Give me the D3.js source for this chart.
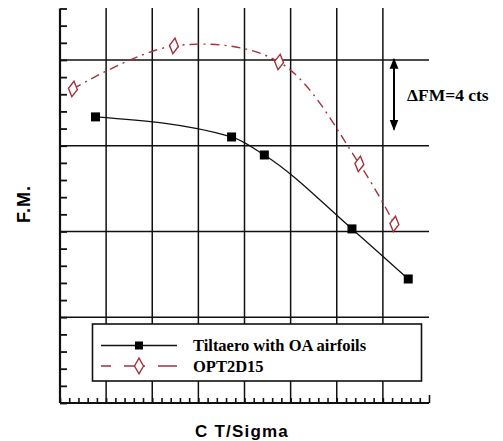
<!DOCTYPE html>
<html>
<head>
<meta charset="utf-8">
<script src="https://cdn.jsdelivr.net/npm/d3@7"></script>
<style>
  html, body { margin: 0; padding: 0; background: #fff; }
  svg { display: block; }
</style>
</head>
<body>
<svg id="chart" width="503" height="441"></svg>
<script>
// Figure of merit vs. thrust coefficient over solidity
const tiltaeroCT = [0.0477, 0.0772, 0.0843, 0.1033, 0.1155];
const tiltaeroFM = [0.7168, 0.7051, 0.6946, 0.6515, 0.6223];
const optCT = [0.0428, 0.0647, 0.0875, 0.1049, 0.1125];
const optFM = [0.7331, 0.7582, 0.7488, 0.6894, 0.6544];
const seriesNames = ["Tiltaero with OA airfoils", "OPT2D15"];
const xMajorTicks = [0.04, 0.05, 0.06, 0.07, 0.08, 0.09, 0.10, 0.11, 0.12];
const yMajorTicks = [0.55, 0.60, 0.65, 0.70, 0.75];
const deltaLabel = "ΔFM=4 cts";
const deltaRange = [0.75, 0.71];

const svg = d3.select("#chart");
const x = d3.scaleLinear().domain([0.04, 0.12]).range([60, 429]);
const y = d3.scaleLinear().domain([0.55, 0.78]).range([403, 8.5]);

const red = "#a3303c";

// grid
const grid = svg.append("g").attr("stroke", "#111").attr("stroke-width", 1.5);
grid.selectAll("line.v").data(xMajorTicks.slice(1, -1)).join("line")
  .attr("x1", d => x(d)).attr("x2", d => x(d))
  .attr("y1", y(0.78) - 0.5).attr("y2", y(0.55));
grid.selectAll("line.h").data(yMajorTicks.slice(1)).join("line")
  .attr("x1", x(0.04)).attr("x2", x(0.12))
  .attr("y1", d => y(d)).attr("y2", d => y(d));

// axes with inward minor ticks
const yMinor = d3.range(0, 24).map(i => +(0.55 + i * 0.01).toFixed(3));
const xMinor = d3.range(0, 41).map(i => +(0.04 + i * 0.002).toFixed(4));

const yAxis = svg.append("g").attr("transform", `translate(${x(0.04)},0)`)
  .call(d3.axisLeft(y).tickValues(yMinor).tickSize(-7).tickSizeOuter(0).tickFormat(""));
yAxis.select(".domain").attr("stroke", "#111").attr("stroke-width", 2.2)
  .attr("d", `M0,${y(0.55)}V${y(0.78)}`);
yAxis.selectAll(".tick line").attr("stroke", "#111").attr("stroke-width", 1.8);

const xAxis = svg.append("g").attr("transform", `translate(0,${y(0.55)})`)
  .call(d3.axisBottom(x).tickValues(xMinor).tickSize(-5).tickSizeOuter(0).tickFormat(""));
xAxis.select(".domain").attr("stroke", "#111").attr("stroke-width", 2.2)
  .attr("d", `M${x(0.04)},0H${x(0.12)}`);
xAxis.selectAll(".tick line").attr("stroke", "#111").attr("stroke-width", 1.6)
  .attr("y2", d => Math.abs(d - 0.12) < 1e-6 ? -8 : -5);

// curves
const line = d3.line().x(d => x(d[0])).y(d => y(d[1])).curve(d3.curveMonotoneX);
const tiltPts = tiltaeroCT.map((c, i) => [c, tiltaeroFM[i]]);
const optPts = optCT.map((c, i) => [c, optFM[i]]);

svg.append("path").datum(optPts).attr("d", d3.line().x(d => x(d[0])).y(d => y(d[1])).curve(d3.curveCatmullRom.alpha(0.5)))
  .attr("fill", "none").attr("stroke", red).attr("stroke-width", 1.4)
  .attr("stroke-dasharray", "9,5,2,5");
svg.append("path").datum(tiltPts).attr("d", line)
  .attr("fill", "none").attr("stroke", "#111").attr("stroke-width", 1.3);

const diamond = d3.symbol().type(d3.symbolDiamond).size(70);
svg.selectAll("path.opt").data(optPts).join("path").attr("class", "opt")
  .attr("transform", d => `translate(${x(d[0])},${y(d[1])}) rotate(8)`)
  .attr("d", diamond).attr("fill", "#fff").attr("stroke", red).attr("stroke-width", 1.4);
svg.selectAll("rect.tilt").data(tiltPts).join("rect").attr("class", "tilt")
  .attr("x", d => x(d[0]) - 4.5).attr("y", d => y(d[1]) - 4.5)
  .attr("width", 9).attr("height", 9).attr("fill", "#000");

// delta FM annotation arrow
const defs = svg.append("defs");
defs.append("marker").attr("id", "ah").attr("viewBox", "0 0 10 10")
  .attr("refX", 9).attr("refY", 5).attr("markerWidth", 11).attr("markerHeight", 11)
  .attr("markerUnits", "userSpaceOnUse").attr("orient", "auto-start-reverse")
  .append("path").attr("d", "M0,1L10,5L0,9Z").attr("fill", "#000");
svg.append("line").attr("x1", 394).attr("x2", 394)
  .attr("y1", y(deltaRange[0]) - 1).attr("y2", y(deltaRange[1]) + 1)
  .attr("stroke", "#000").attr("stroke-width", 2)
  .attr("marker-start", "url(#ah)").attr("marker-end", "url(#ah)");
svg.append("text").attr("x", 407).attr("y", 101)
  .attr("font-family", "Liberation Serif, serif").attr("font-weight", "bold")
  .attr("font-size", 17.5).attr("fill", "#000").text(deltaLabel);

// legend
const lg = svg.append("g");
lg.append("rect").attr("x", 92.5).attr("y", 324).attr("width", 329).attr("height", 57)
  .attr("fill", "#fff").attr("stroke", "#111").attr("stroke-width", 1.6);
lg.append("line").attr("x1", 101).attr("x2", 177).attr("y1", 345.5).attr("y2", 345.5)
  .attr("stroke", "#111").attr("stroke-width", 1.3);
lg.append("rect").attr("x", 135).attr("y", 341.5).attr("width", 8).attr("height", 8).attr("fill", "#000");
lg.append("line").attr("x1", 101).attr("x2", 177).attr("y1", 366).attr("y2", 366)
  .attr("stroke", red).attr("stroke-width", 1.4).attr("stroke-dasharray", "10,13,11,0");
lg.append("path").attr("transform", "translate(139,366)").attr("d", diamond)
  .attr("fill", "#fff").attr("stroke", red).attr("stroke-width", 1.4);
lg.append("text").attr("x", 193).attr("y", 351).text(seriesNames[0]);
lg.append("text").attr("x", 193).attr("y", 371.5).text(seriesNames[1]);
lg.selectAll("text").attr("font-family", "Liberation Serif, serif").attr("font-weight", "bold")
  .attr("font-size", 16.5).attr("fill", "#000");

// axis titles
svg.append("text").attr("transform", "translate(30,204) rotate(-90)").attr("text-anchor", "middle")
  .attr("font-family", "Liberation Sans, Arial, sans-serif").attr("font-weight", "bold")
  .attr("font-size", 18).attr("letter-spacing", 1).attr("fill", "#000").text("F.M.");
svg.append("text").attr("x", 242).attr("y", 437).attr("text-anchor", "middle")
  .attr("font-family", "Liberation Sans, Arial, sans-serif").attr("font-weight", "bold")
  .attr("font-size", 17).attr("letter-spacing", 1.2).attr("fill", "#000").text("C T/Sigma");
</script>
</body>
</html>
